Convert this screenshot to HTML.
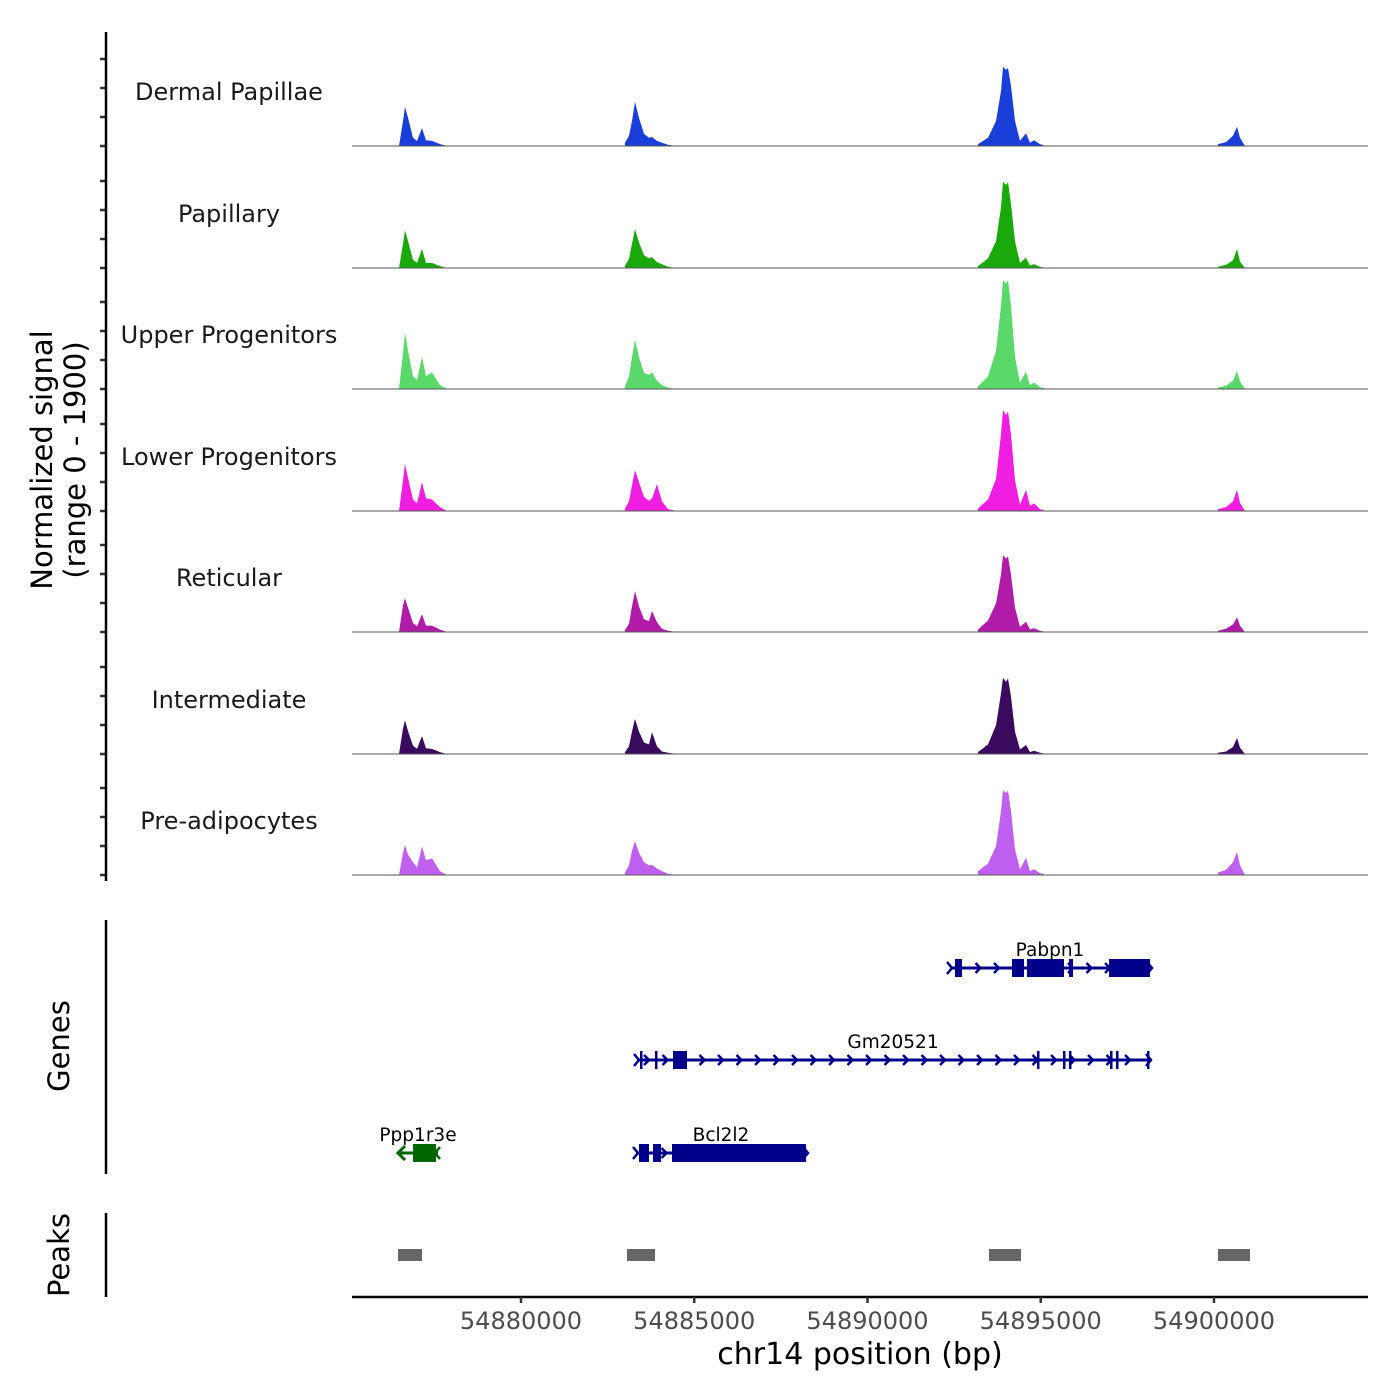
<!DOCTYPE html>
<html><head><meta charset="utf-8">
<style>
html,body{margin:0;padding:0;background:#fff;}
svg{display:block;font-family:"DejaVu Sans","Liberation Sans",sans-serif;}
</style></head>
<body>
<svg id="chart" width="1400" height="1400" viewBox="0 0 1400 1400"></svg>
<script>
// ---- data ----
const trackNames = ["Dermal Papillae","Papillary","Upper Progenitors","Lower Progenitors","Reticular","Intermediate","Pre-adipocytes"];
const trackColors = ["#1a3fd8","#1aa90a","#5ad86a","#f01ee0","#b01ca8","#3a0a5e","#c060f0"];
const positions = [
54876479,54876595,54876652,54876739,54876883,54876999,54877143,54877258,54877431,54877662,54877864,
54883001,54883117,54883203,54883290,54883405,54883550,54883694,54883781,54883925,54884069,54884242,54884502,
54893189,54893478,54893709,54893853,54893911,54893997,54894055,54894141,54894257,54894401,54894574,54894690,54894805,54894978,54895152,
54900115,54900346,54900548,54900664,54900750,54900895];
const sigDermal = [0,390,610,440,130,80,280,90,80,30,0, 50,160,390,690,440,190,130,140,80,50,20,0, 30,130,390,860,1240,1190,1220,940,390,80,200,50,90,30,0, 30,60,160,300,130,0];
const sigPapillary = [0,380,595,420,130,80,300,80,80,30,0, 40,140,380,610,400,200,150,170,90,60,20,0, 30,150,420,950,1350,1300,1340,1000,420,80,160,40,60,20,0, 20,50,120,300,100,0];
const sigUpper = [0,560,880,600,200,140,500,200,260,60,0, 40,200,500,770,500,250,220,260,130,60,20,0, 40,200,600,1300,1700,1650,1700,1300,500,100,270,60,100,30,0, 20,50,130,280,120,0];
const sigLower = [0,480,740,520,180,120,450,200,180,60,0, 40,150,400,640,450,220,160,200,420,150,30,0, 40,180,500,1200,1580,1500,1560,1200,480,100,330,80,120,30,0, 30,60,150,330,130,0];
const sigReticular = [0,420,530,380,140,90,280,100,100,40,0, 30,130,400,640,400,200,170,330,150,50,20,0, 40,180,450,900,1200,1150,1180,900,380,80,160,40,60,20,0, 20,50,120,230,100,0];
const sigIntermediate = [0,400,530,360,130,80,280,90,80,30,0, 30,120,350,550,350,180,150,340,120,40,20,0, 30,150,450,950,1190,1130,1180,900,350,70,140,30,50,20,0, 20,40,110,250,100,0];
const sigPreadipo = [0,350,470,320,200,120,450,230,260,60,0, 40,150,380,530,350,200,150,160,100,60,20,0, 60,180,450,1000,1330,1280,1320,1000,400,90,270,60,90,30,0, 40,80,200,360,150,0];
const allSignals = [sigDermal,sigPapillary,sigUpper,sigLower,sigReticular,sigIntermediate,sigPreadipo];
const yMax = 1900;
const xTicks = [54880000,54885000,54890000,54895000,54900000];
const peakStarts = [54876450,54883059,54893506,54900115];
const peakEnds = [54877143,54883867,54894430,54901039];
const geneNames = ["Pabpn1","Gm20521","Bcl2l2","Ppp1r3e"];
const geneStarts = [54892381,54883348,54883319,54876450];
const geneEnds = [54898153,54898124,54888225,54877605];
const geneStrands = ["+","+","+","-"];
const geneRows = [0,1,2,2];
const geneExons = [
 [[54892525,54892727],[54894170,54894517],[54894603,54895671],[54895815,54895931],[54896970,54898153]],
 [[54883434,54883463],[54883867,54883896],[54884387,54884791],[54894892,54894949],[54895642,54895700],[54895815,54895873],[54896999,54897056],[54897172,54897229],[54898066,54898124]],
 [[54883405,54883694],[54883810,54884040],[54884358,54888225]],
 [[54876883,54877547]]
];

// ---- scales ----
const X0=352, X1=1368;
const xPerBp = 693/20000;
function xs(bp){return 521+(bp-54880000)*xPerBp;}
const baselines=[146,268,389,511,632,754,875];
const trackH=121.5;
function ys(v,i){return baselines[i]-v/yMax*trackH;}

const svg=document.getElementById('chart');
const NS='http://www.w3.org/2000/svg';
function mk(tag,attrs,parent){const e=document.createElementNS(NS,tag);for(const k in attrs)e.setAttribute(k,attrs[k]);(parent||svg).appendChild(e);return e;}

// tracks
trackNames.forEach((nm,i)=>{
  const g=mk('g',{});
  
  
  const sig=allSignals[i];
  let d='M'+X0+','+baselines[i];
  positions.forEach((p,j)=>{
    const prevGap = j>0 && positions[j]-positions[j-1]>2000;
    if(j===0||prevGap) d+=' L'+xs(p).toFixed(2)+','+baselines[i];
    d+=' L'+xs(p).toFixed(2)+','+ys(sig[j],i).toFixed(2);
    const nextGap = j===positions.length-1 || positions[j+1]-p>2000;
    if(nextGap) d+=' L'+xs(p).toFixed(2)+','+baselines[i];
  });
  d+=' L'+X1+','+baselines[i]+' Z';
  const a=mk('path',{d:d,fill:trackColors[i],stroke:'none'},g);
  
  
  const bl=mk('line',{x1:X0,x2:X1,y1:baselines[i],y2:baselines[i],stroke:'#555',"stroke-width":1},g);
  
  
  const t=mk('text',{x:229,y:baselines[i]-46,"text-anchor":"middle","font-size":24,fill:'#1a1a1a'},g);
  t.textContent=nm;
  
  
  for(let k=0;k<4;k++){
    const tk=mk('line',{x1:100,x2:106,y1:baselines[i]-k*29,y2:baselines[i]-k*29,stroke:'#333',"stroke-width":2.5},g);
    
    
  }
});
const ya=mk('line',{x1:106,x2:106,y1:32,y2:881,stroke:'#000',"stroke-width":2.5});


const yt=mk('text',{transform:'translate(52,460) rotate(-90)',"text-anchor":"middle","font-size":29,fill:'#000'});


yt.innerHTML='<tspan x="0" dy="0">Normalized signal</tspan><tspan x="0" dy="33">(range 0 - 1900)</tspan>';

// genes
const gy=[968,1060,1153];
const ga=mk('line',{x1:106,x2:106,y1:920,y2:1174,stroke:'#000',"stroke-width":2.5});


const gt=mk('text',{transform:'translate(69,1046) rotate(-90)',"text-anchor":"middle","font-size":29,fill:'#000'});
gt.textContent='Genes';


geneNames.forEach((nm,i)=>{
  const col = geneStrands[i]==='+' ? '#00008b' : '#006400';
  const y=gy[geneRows[i]];
  const g=mk('g',{});
  
  
  const x1=xs(geneStarts[i]), x2=xs(geneEnds[i]);
  mk('line',{x1:x1,x2:x2,y1:y,y2:y,stroke:col,"stroke-width":3},g);
  const dir = geneStrands[i]==='+'?1:-1;
  if(dir>0){
    for(let x=x1+10;x<x2-4;x+=18.5){
      mk('polyline',{points:(x-3)+','+(y-5)+' '+(x+2)+','+y+' '+(x-3)+','+(y+5),fill:'none',stroke:col,"stroke-width":2.5},g);
    }
    mk('polyline',{points:(x1-3)+','+(y-6)+' '+(x1+2)+','+y+' '+(x1-3)+','+(y+6),fill:'none',stroke:col,"stroke-width":2.5},g);
    mk('polyline',{points:(x2-3)+','+(y-6)+' '+(x2+2)+','+y+' '+(x2-3)+','+(y+6),fill:'none',stroke:col,"stroke-width":2.5},g);
  } else {
    mk('polyline',{points:(x1+7)+','+(y-7)+' '+(x1)+','+y+' '+(x1+7)+','+(y+7),fill:'none',stroke:col,"stroke-width":3},g);
    mk('polyline',{points:(x2+2)+','+(y-6)+' '+(x2-3)+','+y+' '+(x2+2)+','+(y+6),fill:'none',stroke:col,"stroke-width":2.5},g);
  }
  geneExons[i].forEach(ex=>{
    const a=xs(ex[0]), b=xs(ex[1]);
    const r=mk('rect',{x:a,y:y-9,width:Math.max(2.5,b-a),height:18,fill:col},g);
    
    
  });
  const lbl=mk('text',{x:(x1+x2)/2,y:y-12,"text-anchor":"middle","font-size":18.5,fill:'#000'},g);
  lbl.textContent=nm;
  
  
});

// peaks
const pa=mk('line',{x1:106,x2:106,y1:1213,y2:1297,stroke:'#000',"stroke-width":2.5});


const pt=mk('text',{transform:'translate(69,1255) rotate(-90)',"text-anchor":"middle","font-size":29,fill:'#000'});
pt.textContent='Peaks';


peakStarts.forEach((s,i)=>{
  const r=mk('rect',{x:xs(s),y:1249,width:xs(peakEnds[i])-xs(s),height:12,fill:'#666'});
  
  
});

// x axis
const xa=mk('line',{x1:X0,x2:X1,y1:1297,y2:1297,stroke:'#000',"stroke-width":2.5});


xTicks.forEach(v=>{
  const tk=mk('line',{x1:xs(v),x2:xs(v),y1:1297,y2:1303,stroke:'#333',"stroke-width":2.5});
  
  
  const tl=mk('text',{x:xs(v),y:1329,"text-anchor":"middle","font-size":24,fill:'#4d4d4d'});
  tl.textContent=String(v);
  
  
});
const xt=mk('text',{x:860,y:1364,"text-anchor":"middle","font-size":30,fill:'#000'});
xt.textContent='chr14 position (bp)';


</script>
</body></html>
